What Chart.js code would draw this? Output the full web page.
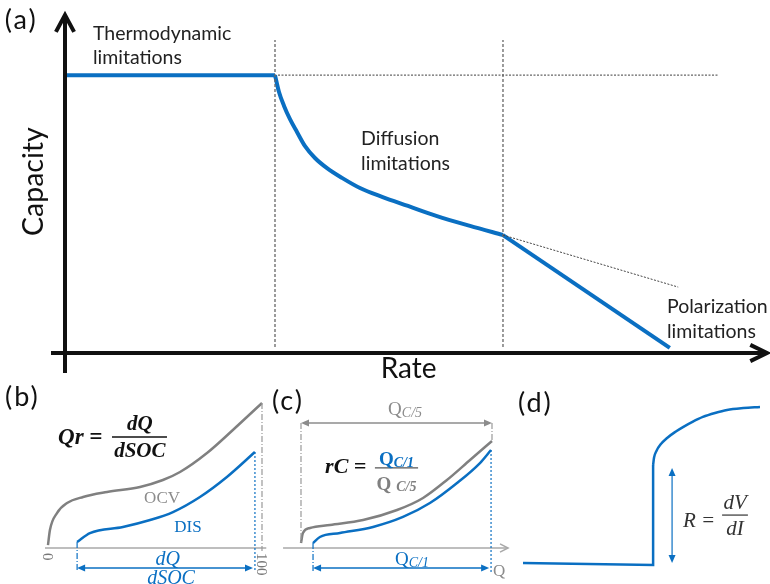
<!DOCTYPE html>
<html><head><meta charset="utf-8">
<script src="https://cdn.jsdelivr.net/npm/chart.js@4.4.1/dist/chart.umd.min.js"></script>
<style>
html,body{margin:0;padding:0;background:#fff;}
#wrap{position:relative;width:770px;height:584px;overflow:hidden;}
canvas{position:absolute;left:0;top:0;}
</style></head>
<body><div id="wrap">
<canvas id="ca" width="770" height="584"></canvas>
<canvas id="cb" width="770" height="584"></canvas>
<canvas id="cc" width="770" height="584"></canvas>
<canvas id="cd" width="770" height="584"></canvas>
</div>
<script>
// ---------- DATA ----------
// (a) Capacity vs Rate
const rateFlat = [0, 3.0];
const capFlat = [8.22, 8.22];
const rateDiff = [3.000, 3.057, 3.129, 3.214, 3.314, 3.429, 3.571, 3.743, 3.957, 4.214, 4.529, 4.900, 5.314, 5.786, 6.257];
const capDiff  = [8.22, 7.72, 7.31, 6.92, 6.54, 6.12, 5.77, 5.47, 5.18, 4.88, 4.62, 4.35, 4.05, 3.76, 3.49];
const ratePol = [6.257, 8.64];
const capPol  = [3.49, 0.15];
const rateTangent = [6.257, 8.76];
const capTangent  = [3.49, 1.95];
const rateBreaks = [3.0, 6.257];
const capRef = 8.22;
const regionLabels = [["Thermodynamic", "limitations"], ["Diffusion", "limitations"], ["Polarization", "limitations"]];

// (b) OCV and DIS vs SOC
const socOCV = [0, 0.9, 4.2, 8.9, 16.4, 27.6, 43.0, 53.7, 61.7, 74.3, 86.4, 100];
const vOCV   = [0.2, 1.24, 2.41, 3.10, 3.52, 3.86, 4.21, 4.69, 5.24, 6.55, 8.14, 10.0];
const socDIS = [13.6, 19.6, 35.0, 47.7, 58.4, 71.0, 83.6, 96.7];
const vDIS   = [0.41, 1.03, 1.45, 1.93, 2.48, 3.52, 4.90, 6.62];
const socTicks = ["0", "100"];

// (c) C/5 and C/1 vs Q
const qC5 = [0, 1.0, 4.7, 15.2, 32.5, 50.3, 63.9, 76.4, 88.5, 100];
const vC5 = [0.34, 1.03, 1.38, 1.59, 1.93, 2.62, 3.45, 4.69, 6.07, 7.38];
const qC1 = [6.3, 9.9, 20.4, 37.7, 53.4, 67.5, 81.7, 93.7, 99.5];
const vC1 = [0.34, 0.76, 1.03, 1.45, 2.14, 3.10, 4.48, 5.86, 6.76];

// (d) pulse response
const iStep = [0, 5.49, 5.49];
const vStep = [0.13, 0, 6.33];
const iTop = [5.49, 5.53, 5.63, 5.80, 6.08, 6.45, 6.75, 7.15, 7.59, 8.10, 8.61, 9.30, 10];
const vTop = [6.33, 6.80, 7.22, 7.62, 8.04, 8.45, 8.73, 9.06, 9.37, 9.62, 9.81, 9.93, 10];

// ---------- helpers ----------
const BLUE = '#0a6fc2', GRAY = '#808080', LGRAY = '#a9a9a9', DARK = '#222';
const zip = (xs, ys) => xs.map((x, i) => ({x, y: ys[i]}));

function ds(xs, ys, color, width, extra) {
  return Object.assign({data: zip(xs, ys), borderColor: color, borderWidth: width, pointRadius: 0,
    showLine: true, fill: false, clip: false, cubicInterpolationMode: 'monotone'}, extra || {});
}
function path(ctx, pts, color, width, dash, cap) {
  ctx.save(); ctx.beginPath(); ctx.strokeStyle = color; ctx.lineWidth = width;
  ctx.setLineDash(dash || []); ctx.lineCap = cap || 'butt'; ctx.lineJoin = 'miter';
  pts.forEach((p, i) => i ? ctx.lineTo(p[0], p[1]) : ctx.moveTo(p[0], p[1]));
  ctx.stroke(); ctx.restore();
}
function headPx(ctx, x, y, ang, len, half, color) {
  ctx.save(); ctx.fillStyle = color; ctx.beginPath();
  ctx.moveTo(x, y);
  ctx.lineTo(x - len * Math.cos(ang) + half * Math.sin(ang), y - len * Math.sin(ang) - half * Math.cos(ang));
  ctx.lineTo(x - len * Math.cos(ang) - half * Math.sin(ang), y - len * Math.sin(ang) + half * Math.cos(ang));
  ctx.closePath(); ctx.fill(); ctx.restore();
}
function dblArrow(ctx, x1, y1, x2, y2, color, width) {
  const ang = Math.atan2(y2 - y1, x2 - x1);
  const L = 8, H = 3.5;
  path(ctx, [[x1 + L * 0.8 * Math.cos(ang), y1 + L * 0.8 * Math.sin(ang)], [x2 - L * 0.8 * Math.cos(ang), y2 - L * 0.8 * Math.sin(ang)]], color, width);
  headPx(ctx, x2, y2, ang, L, H, color);
  headPx(ctx, x1, y1, ang + Math.PI, L, H, color);
}
function txt(ctx, s, x, y, font, color, align, rot, spacing) {
  ctx.save(); ctx.font = font; ctx.fillStyle = color; ctx.textAlign = align || 'left'; ctx.textBaseline = 'alphabetic';
  if (spacing) ctx.letterSpacing = spacing;
  ctx.translate(x, y); if (rot) ctx.rotate(rot);
  ctx.fillText(s, 0, 0); ctx.restore();
}
function runs(ctx, items, cx, y, align) {
  ctx.save();
  let w = 0;
  items.forEach(r => { ctx.font = r.font; r.w = ctx.measureText(r.t).width; w += r.w + (r.gap || 0); });
  let x = align === 'left' ? cx : cx - w / 2;
  items.forEach(r => { ctx.font = r.font; ctx.fillStyle = r.color; ctx.textAlign = 'left'; ctx.fillText(r.t, x, y + (r.dy || 0)); x += r.w + (r.gap || 0); });
  ctx.restore();
}
function makeChart(id, pad, xr, yr, datasets, draw) {
  return new Chart(document.getElementById(id), {
    type: 'scatter',
    data: {datasets},
    options: {
      responsive: false, animation: false, events: [],
      layout: {padding: pad},
      plugins: {legend: {display: false}, tooltip: {enabled: false}},
      scales: {
        x: {type: 'linear', display: false, min: xr[0], max: xr[1]},
        y: {type: 'linear', display: false, min: yr[0], max: yr[1]}
      }
    },
    plugins: [{id: 'deco', afterDatasetsDraw(c) {
      const X = v => c.scales.x.getPixelForValue(v), Y = v => c.scales.y.getPixelForValue(v);
      draw(c.ctx, X, Y);
    }}]
  });
}

const SANS = 'Lato, "Open Sans", sans-serif';
const SERIF = '"Liberation Serif", "DejaVu Serif", serif';

// ---------- (a) ----------
makeChart('ca', {left: 65, right: 5, top: 15, bottom: 231}, [0, 10], [0, 10], [
  ds(rateFlat, capFlat, BLUE, 4, {cubicInterpolationMode: 'default', tension: 0}),
  ds(rateDiff, capDiff, BLUE, 4),
  ds(ratePol, capPol, BLUE, 4, {cubicInterpolationMode: 'default', tension: 0})
], (ctx, X, Y) => {
  rateBreaks.forEach(r => path(ctx, [[X(r), Y(0.18)], [X(r), Y(9.26)]], '#666', 1.3, [3, 2]));
  path(ctx, [[X(rateBreaks[0]) + 3, Y(capRef)], [X(9.33), Y(capRef)]], '#666', 1.2, [2, 1.5]);
  path(ctx, [[X(rateTangent[0]), Y(capTangent[0])], [X(rateTangent[1]), Y(capTangent[1])]], '#444', 1, [2, 1.5]);
  path(ctx, [[X(0), Y(-0.59)], [X(0), Y(10) + 2]], '#111', 4);
  path(ctx, [[X(-0.13), Y(9.5)], [X(0), Y(10)], [X(0.13), Y(9.5)]], '#111', 4);
  path(ctx, [[X(-0.2), Y(0)], [X(10.03) - 2, Y(0)]], '#111', 4);
  path(ctx, [[X(9.79), Y(0.24)], [X(10.03), Y(0)], [X(9.79), Y(-0.24)]], '#111', 4);
  txt(ctx, '(a)', X(-0.86), Y(9.59), '27px ' + SANS, '#111', 'left', 0, '2px');
  const F = '19.5px ' + SANS;
  txt(ctx, regionLabels[0][0], X(0.40), Y(9.26), F, DARK);
  txt(ctx, regionLabels[0][1], X(0.40), Y(8.55), F, DARK);
  txt(ctx, regionLabels[1][0], X(4.23), Y(6.15), F, DARK);
  txt(ctx, regionLabels[1][1], X(4.23), Y(5.41), F, DARK);
  txt(ctx, regionLabels[2][0], X(8.6), Y(1.18), F, DARK);
  txt(ctx, regionLabels[2][1], X(8.6), Y(0.44), F, DARK);
  txt(ctx, 'Rate', X(4.91), Y(-0.74), '28px ' + SANS, '#111', 'center');
  txt(ctx, 'Capacity', X(-0.31), Y(5.07), '28.5px ' + SANS, '#111', 'center', -Math.PI / 2);
});

// ---------- (b) ----------
makeChart('cb', {left: 48, right: 508, top: 403, bottom: 36}, [0, 100], [0, 10], [
  ds(socOCV, vOCV, GRAY, 2.5),
  ds(socDIS, vDIS, BLUE, 2.5)
], (ctx, X, Y) => {
  path(ctx, [[X(-1.4), Y(0)], [X(102), Y(0)]], LGRAY, 1.5);
  path(ctx, [[X(100), Y(10)], [X(100), Y(-0.2)]], '#999', 1.2, [6, 2, 1, 2]);
  path(ctx, [[X(socDIS[0]), Y(vDIS[0])], [X(socDIS[0]), Y(-1.66)]], BLUE, 1.2, [6, 2, 1, 2]);
  path(ctx, [[X(socDIS[socDIS.length - 1]), Y(vDIS[vDIS.length - 1])], [X(socDIS[socDIS.length - 1]), Y(-1.66)]], BLUE, 1.2, [2, 2]);
  dblArrow(ctx, X(socDIS[0]), Y(-1.38), X(95.8), Y(-1.38), BLUE, 1.3);
  txt(ctx, '(b)', X(-20.1), Y(9.8), '27px ' + SANS, '#111', 'left', 0, '2px');
  txt(ctx, 'Qr =', X(4.7), Y(7.17), 'italic bold 23px ' + SERIF, '#111');
  path(ctx, [[X(29.9), Y(7.66)], [X(55.6), Y(7.66)]], '#111', 1.6);
  const BF = 'italic bold 21px ' + SERIF;
  txt(ctx, 'dQ', X(42.9), Y(8.14), BF, '#111', 'center');
  txt(ctx, 'dSOC', X(42.9), Y(6.28), BF, '#111', 'center');
  txt(ctx, 'OCV', X(53.3), Y(3.10), '17px ' + SERIF, '#8c8c8c', 'center');
  txt(ctx, 'DIS', X(65.4), Y(1.10), '17px ' + SERIF, BLUE, 'center');
  const IF = 'italic 20px ' + SERIF;
  txt(ctx, 'dQ', X(56), Y(-1.17), IF, BLUE, 'center');
  txt(ctx, 'dSOC', X(57.5), Y(-2.48), IF, BLUE, 'center');
  txt(ctx, socTicks[0], X(0) - 5, Y(-0.35), '15px ' + SERIF, '#777', 'left', Math.PI / 2);
  txt(ctx, socTicks[1], X(100) - 5, Y(-0.35), '15px ' + SERIF, '#777', 'left', Math.PI / 2);
});

// ---------- (c) ----------
makeChart('cc', {left: 301, right: 278, top: 403, bottom: 36}, [0, 100], [0, 10], [
  ds(qC5, vC5, GRAY, 2.5),
  ds(qC1, vC1, BLUE, 2.5)
], (ctx, X, Y) => {
  path(ctx, [[X(-9.4), Y(0)], [X(108.4), Y(0)]], LGRAY, 1.5);
  path(ctx, [[X(104.2), Y(0.28)], [X(108.4), Y(0)], [X(104.2), Y(-0.28)]], LGRAY, 1.5);
  path(ctx, [[X(0), Y(8.62)], [X(0), Y(vC5[0])]], '#999', 1.2, [6, 2, 1, 2]);
  path(ctx, [[X(100), Y(8.62)], [X(100), Y(vC5[vC5.length - 1])]], '#999', 1.2, [6, 2, 1, 2]);
  path(ctx, [[X(qC1[0]), Y(vC1[0])], [X(qC1[0]), Y(-1.66)]], BLUE, 1.2, [6, 2, 1, 2]);
  path(ctx, [[X(qC1[qC1.length - 1]), Y(vC1[vC1.length - 1])], [X(qC1[qC1.length - 1]), Y(-1.66)]], BLUE, 1.2, [2, 2]);
  dblArrow(ctx, X(0), Y(8.62), X(100), Y(8.62), '#8c8c8c', 1.3);
  dblArrow(ctx, X(qC1[0]), Y(-1.38), X(98.5), Y(-1.38), BLUE, 1.3);
  txt(ctx, '(c)', X(-15.2), Y(9.52), '27px ' + SANS, '#111', 'left', 0, '2px');
  runs(ctx, [{t: 'Q', font: '19px ' + SERIF, color: '#8c8c8c'}, {t: 'C/5', font: 'italic 14px ' + SERIF, color: '#8c8c8c', dy: 2}], X(54.5), Y(9.17));
  runs(ctx, [{t: 'Q', font: '19px ' + SERIF, color: BLUE}, {t: 'C/1', font: 'italic 14px ' + SERIF, color: BLUE, dy: 2}], X(58.1), Y(-1.17));
  txt(ctx, 'Q', X(100.5), Y(-1.93), '17px ' + SERIF, '#8c8c8c');
  txt(ctx, 'rC =', X(12.6), Y(5.17), 'italic bold 22px ' + SERIF, '#111');
  path(ctx, [[X(38.7), Y(5.52)], [X(61.3), Y(5.52)]], '#555', 1.3);
  runs(ctx, [{t: 'Q', font: 'bold 19px ' + SERIF, color: BLUE}, {t: 'C/1', font: 'italic bold 14px ' + SERIF, color: BLUE, dy: 2}], X(50), Y(5.72));
  runs(ctx, [{t: 'Q ', font: 'bold 19px ' + SERIF, color: '#808080'}, {t: 'C/5', font: 'italic bold 14px ' + SERIF, color: '#808080', dy: 1}], X(50), Y(4.0));
});

// ---------- (d) ----------
makeChart('cd', {left: 523, right: 10, top: 407, bottom: 19}, [0, 10], [0, 10], [
  ds(iStep, vStep, BLUE, 2.5, {cubicInterpolationMode: 'default', tension: 0}),
  ds(iTop, vTop, BLUE, 2.5)
], (ctx, X, Y) => {
  dblArrow(ctx, X(6.29), Y(6.14), X(6.29), Y(0.13), BLUE, 1.2);
  txt(ctx, '(d)', X(-0.21), Y(9.68), '27px ' + SANS, '#111', 'left', 0, '2px');
  const IF = 'italic 21px ' + SERIF;
  txt(ctx, 'R =', X(6.75), Y(2.41), IF, '#333');
  path(ctx, [[X(8.40), Y(3.16)], [X(9.49), Y(3.16)]], '#333', 1.2);
  txt(ctx, 'dV', X(8.95), Y(3.54), IF, '#333', 'center');
  txt(ctx, 'dI', X(8.95), Y(1.9), IF, '#333', 'center');
});
</script>
</body></html>
